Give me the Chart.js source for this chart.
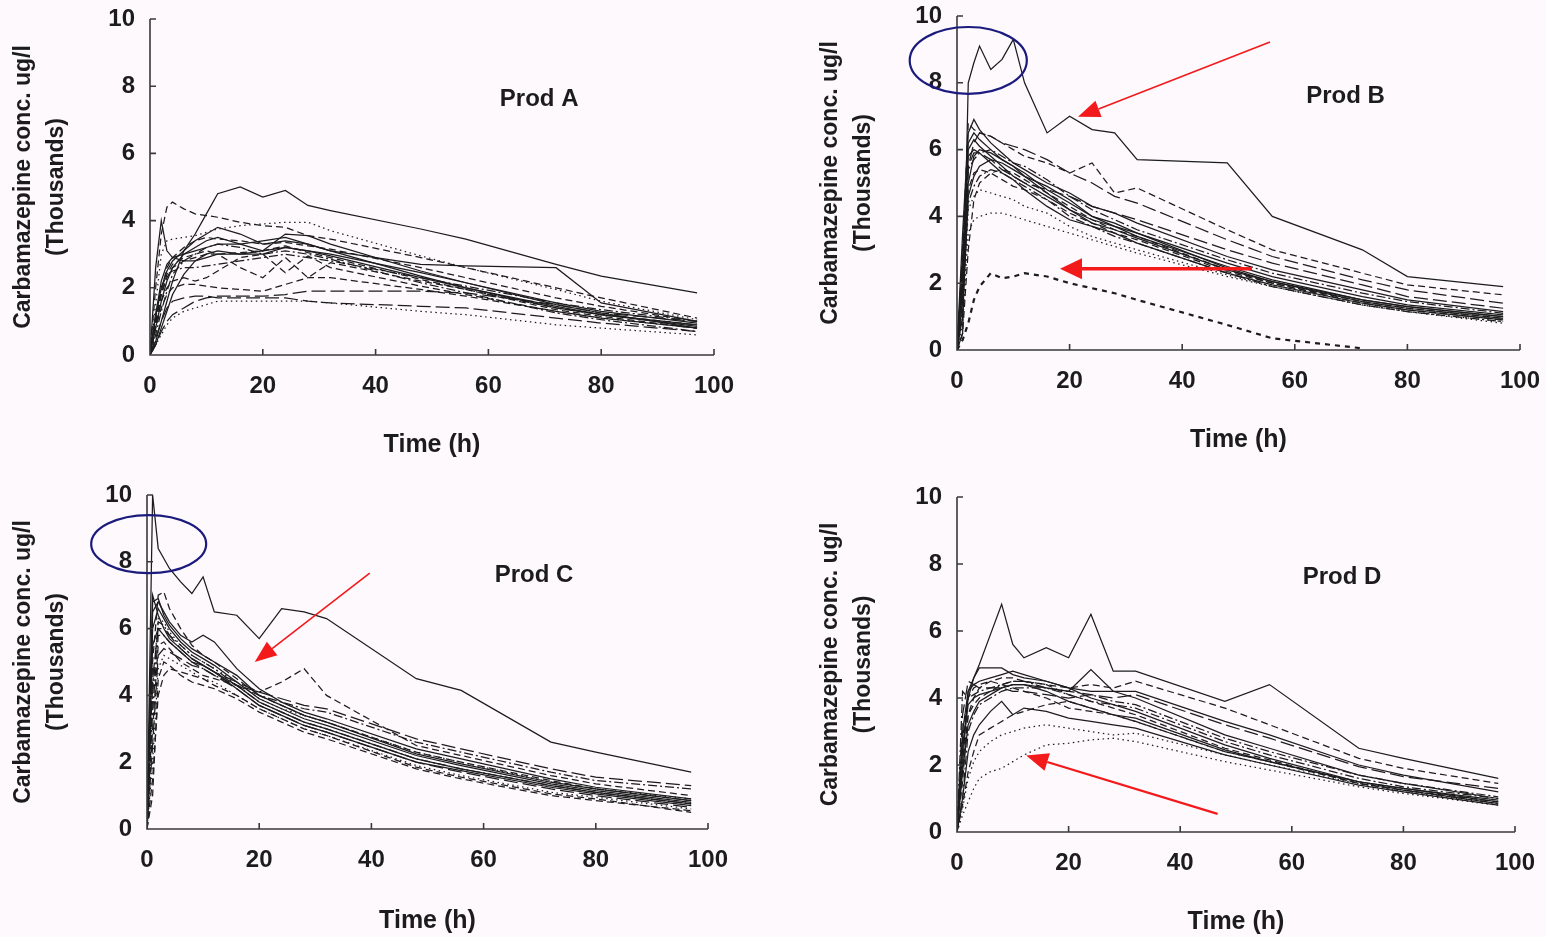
<!DOCTYPE html>
<html>
<head>
<meta charset="utf-8">
<script src="https://cdn.jsdelivr.net/npm/chart.js@4.4.0/dist/chart.umd.min.js"></script>
<style>
  html, body { margin: 0; padding: 0; background: #fdf9fd; }
  body { width: 1546px; height: 937px; position: relative; overflow: hidden; }
  canvas { position: absolute; }
</style>
</head>
<body>
<canvas id="pA"></canvas>
<canvas id="pB"></canvas>
<canvas id="pC"></canvas>
<canvas id="pD"></canvas>
<script>
// sampling times (h)
const hours = [0, 1, 2, 3, 4, 6, 8, 10, 12, 16, 20, 24, 28, 32, 48, 56, 72, 80, 97];

const xTicks = [0, 20, 40, 60, 80, 100];
const yTicks = [0, 2, 4, 6, 8, 10];
const xTitle = 'Time (h)';
const yTitle = ['Carbamazepine conc. ug/l', '(Thousands)'];
const panelNames = ['Prod A', 'Prod B', 'Prod C', 'Prod D'];

// carbamazepine conc (thousands ug/l), one row per subject, read at `hours`
const prodA = [
  [0, 0.4, 1.0, 1.6, 2.2, 3.1, 3.6, 4.2, 4.8, 5.0, 4.7, 4.9, 4.45, 4.3, 3.75, 3.45, 2.7, 2.35, 1.85],
  [0, 1.2, 2.2, 2.7, 2.9, 3.0, 3.1, 3.2, 3.3, 3.3, 3.4, 3.5, 3.3, 3.1, 2.7, 2.65, 2.6, 1.55, 1.0],
  [0, 2.0, 3.6, 4.4, 4.55, 4.35, 4.2, 4.15, 4.1, 3.95, 3.85, 3.8, 3.55, 3.45, 2.9, 2.6, 2.0, 1.7, 1.1],
  [0, 2.6, 4.0, 3.1, 2.9, 2.8, 2.8, 2.9, 3.0, 3.0, 3.1, 3.2, 3.1, 2.95, 2.3, 2.0, 1.4, 1.2, 0.85],
  [0, 1.5, 3.0, 3.4, 3.45, 3.5, 3.55, 3.65, 3.75, 3.85, 3.9, 3.95, 3.95, 3.7, 2.95, 2.6, 1.95, 1.6, 1.05],
  [0, 0.8, 1.6, 2.2, 2.6, 3.0, 3.2, 3.4, 3.5, 3.3, 3.1, 3.6, 3.55, 3.3, 2.5, 2.15, 1.5, 1.25, 0.8],
  [0, 1.2, 2.0, 2.5, 2.8, 3.1, 3.4, 3.6, 3.8, 3.6, 3.3, 3.4, 3.3, 3.1, 2.35, 2.0, 1.45, 1.2, 0.9],
  [0, 1.0, 1.8, 2.4, 2.7, 2.9, 3.0, 3.1, 3.0, 3.05, 3.1, 3.25, 3.05, 2.9, 2.25, 1.95, 1.35, 1.15, 0.8],
  [0, 0.6, 1.3, 1.9, 2.4, 2.8, 3.0, 3.2, 3.3, 3.2, 3.0, 3.1, 3.0, 2.85, 2.15, 1.85, 1.25, 1.05, 0.7],
  [0, 0.3, 0.8, 1.3, 1.8, 2.4, 2.8, 3.0, 3.1, 3.0, 3.0, 3.2, 3.1, 3.0, 2.45, 2.15, 1.55, 1.3, 0.95],
  [0, 1.0, 1.8, 2.3, 2.6, 2.8, 2.9, 3.0, 3.0, 2.6, 2.3, 2.9, 2.3, 2.75, 2.2, 1.95, 1.4, 1.2, 0.9],
  [0, 0.9, 1.6, 2.0, 2.2, 2.3, 2.2, 2.3, 2.5, 2.9, 3.0, 2.45, 2.95, 2.6, 2.05, 1.8, 1.3, 1.1, 0.8],
  [0, 0.8, 1.4, 1.8, 2.0, 2.1, 2.1, 2.05, 2.0, 1.95, 1.9, 2.1, 2.3, 2.3, 1.95, 1.75, 1.3, 1.1, 0.8],
  [0, 0.3, 0.7, 1.0, 1.2, 1.4, 1.6, 1.7, 1.75, 1.75, 1.75, 1.8, 1.9, 1.9, 1.9, 1.85, 1.5, 1.25, 1.0],
  [0, 0.3, 0.6, 0.9, 1.1, 1.3, 1.4, 1.5, 1.6, 1.6, 1.6, 1.6, 1.6, 1.55, 1.3, 1.2, 0.9, 0.8, 0.6],
  [0, 1.1, 2.0, 2.4, 2.5, 2.6, 2.6, 2.65, 2.7, 2.8, 2.9, 3.0, 2.9, 2.8, 2.3, 2.05, 1.55, 1.35, 1.0],
  [0, 0.5, 1.0, 1.4, 1.6, 1.7, 1.75, 1.75, 1.7, 1.7, 1.7, 1.7, 1.6, 1.55, 1.45, 1.4, 1.1, 0.95, 0.7],
  [0, 0.9, 1.9, 2.6, 2.9, 3.2, 3.4, 3.5, 3.45, 3.4, 3.3, 3.35, 3.25, 3.15, 2.6, 2.3, 1.7, 1.45, 1.0]
];

const prodB = [
  [0, 0.5, 8.0, 8.6, 9.1, 8.4, 8.7, 9.3, 8.0, 6.5, 7.0, 6.6, 6.5, 5.7, 5.6, 4.0, 3.0, 2.2, 1.9],
  [0, 3.0, 6.8, 6.6, 6.5, 6.4, 6.2, 6.0, 5.8, 5.6, 5.3, 5.6, 4.7, 4.85, 3.6, 3.0, 2.3, 1.95, 1.65],
  [0, 2.0, 5.5, 6.2, 6.5, 6.4, 6.2, 6.1, 6.0, 5.7, 5.3, 5.0, 4.6, 4.4, 3.3, 2.8, 2.1, 1.8, 1.4],
  [0, 1.5, 5.0, 5.8, 6.0, 5.9, 5.7, 5.5, 5.3, 4.8, 4.4, 4.0, 3.8, 3.5, 2.6, 2.2, 1.6, 1.35, 1.05],
  [0, 2.5, 6.0, 6.3, 6.1, 5.8, 5.5, 5.2, 5.0, 4.6, 4.2, 3.9, 3.7, 3.4, 2.5, 2.1, 1.5, 1.3, 1.0],
  [0, 2.0, 5.4, 5.7, 5.9, 6.0, 5.8, 5.6, 5.5, 5.1, 4.6, 4.2, 3.9, 3.6, 2.7, 2.3, 1.7, 1.45, 1.1],
  [0, 1.0, 4.6, 5.2, 5.5, 5.7, 5.6, 5.4, 5.2, 4.9, 4.5, 4.0, 3.7, 3.5, 2.45, 2.05, 1.45, 1.25, 0.95],
  [0, 3.5, 6.5, 6.9, 6.6, 6.2, 5.9, 5.6, 5.4, 5.0, 4.7, 4.3, 4.1, 3.8, 2.8, 2.4, 1.8, 1.5, 1.15],
  [0, 1.2, 4.8, 5.3, 5.4, 5.3, 5.1, 4.9, 4.8, 4.5, 4.1, 3.8, 3.5, 3.3, 2.35, 2.0, 1.4, 1.2, 0.9],
  [0, 0.8, 3.5, 3.9, 4.0, 4.1, 4.1, 4.0, 3.9, 3.7, 3.5, 3.3, 3.1, 2.9, 2.2, 1.9, 1.35, 1.15, 0.85],
  [0, 1.0, 4.2, 4.6, 4.8, 4.7, 4.6, 4.5, 4.3, 4.1, 3.7, 3.4, 3.2, 3.0, 2.25, 1.9, 1.35, 1.15, 0.8],
  [0, 0.3, 0.8, 1.5, 1.9, 2.3, 2.15, 2.2, 2.3, 2.2, 2.0, 1.85, 1.7, 1.5, 0.75, 0.35, 0.05, null, null],
  [0, 0.5, 3.0, 4.5, 5.0, 5.3, 5.4, 5.3, 5.1, 4.7, 4.3, 3.9, 3.6, 3.4, 2.4, 2.0, 1.45, 1.25, 0.95],
  [0, 1.8, 5.5, 5.9, 5.9, 5.7, 5.4, 5.2, 5.0, 4.8, 4.6, 4.3, 4.1, 3.9, 3.0, 2.6, 1.95, 1.6, 1.25],
  [0, 2.2, 5.8, 6.0, 5.9, 5.6, 5.3, 5.1, 4.8, 4.3, 3.9, 3.7, 3.5, 3.2, 2.3, 1.95, 1.4, 1.2, 0.9],
  [0, 1.5, 4.4, 4.9, 5.2, 5.4, 5.3, 5.1, 4.9, 4.5, 4.0, 3.7, 3.4, 3.2, 2.3, 1.9, 1.35, 1.15, 0.85],
  [0, 2.8, 6.2, 6.5, 6.3, 6.0, 5.7, 5.5, 5.2, 4.7, 4.2, 3.8, 3.6, 3.35, 2.4, 2.05, 1.5, 1.3, 1.0]
];

const prodC = [
  [0, 10.0, 8.4, 8.1, 7.8, 7.4, 7.05, 7.55, 6.5, 6.4, 5.7, 6.6, 6.5, 6.3, 4.5, 4.15, 2.6, 2.3, 1.7],
  [0, 6.5, 6.8, 6.5, 6.2, 5.8, 5.6, 5.8, 5.6, 4.8, 4.2, 3.8, 3.5, 3.3, 2.4, 2.1, 1.5, 1.25, 0.9],
  [0, 5.0, 7.0, 7.1, 6.6, 6.0, 5.5, 5.2, 5.0, 4.5, 4.0, 3.7, 3.4, 3.2, 2.3, 2.0, 1.45, 1.2, 0.85],
  [0, 6.0, 6.6, 6.3, 6.0, 5.6, 5.3, 5.1, 4.9, 4.4, 3.9, 3.6, 3.3, 3.1, 2.2, 1.9, 1.35, 1.15, 0.8],
  [0, 4.0, 6.2, 6.1, 5.8, 5.5, 5.2, 5.0, 4.8, 4.3, 3.8, 3.5, 3.2, 3.0, 2.1, 1.8, 1.3, 1.1, 0.75],
  [0, 5.5, 6.0, 5.8, 5.6, 5.3, 5.0, 4.9, 4.7, 4.2, 3.7, 3.4, 3.1, 2.9, 2.0, 1.75, 1.25, 1.05, 0.7],
  [0, 3.0, 5.5, 5.6, 5.4, 5.0, 4.8, 4.6, 4.5, 4.3, 4.1, 4.4, 4.8, 4.0, 2.5, 2.2, 1.6, 1.35, 1.0],
  [0, 4.5, 6.0, 6.0, 5.8, 5.4, 5.1, 4.9, 4.7, 4.4, 4.1, 3.9, 3.7, 3.6, 2.7, 2.4, 1.8, 1.55, 1.3],
  [0, 3.5, 5.8, 5.8, 5.6, 5.3, 5.0, 4.8, 4.6, 4.3, 4.0, 3.8, 3.6, 3.5, 2.6, 2.3, 1.7, 1.45, 1.2],
  [0, 2.0, 4.8, 5.2, 5.1, 4.9, 4.7, 4.5, 4.4, 4.0, 3.6, 3.3, 3.0, 2.8, 1.9, 1.6, 1.1, 0.95, 0.6],
  [0, 7.0, 6.4, 6.0, 5.7, 5.4, 5.1, 4.9, 4.7, 4.3, 3.8, 3.5, 3.2, 3.0, 2.1, 1.8, 1.3, 1.1, 0.75],
  [0, 1.0, 4.5, 5.0, 4.9, 4.6, 4.4, 4.3, 4.2, 3.9, 3.5, 3.2, 2.9, 2.7, 1.8, 1.5, 1.0, 0.85, 0.55],
  [0, 2.5, 5.2, 5.4, 5.3, 5.1, 4.9, 4.8, 4.6, 4.2, 3.7, 3.4, 3.1, 2.9, 2.0, 1.7, 1.2, 1.0, 0.65],
  [0, 4.2, 6.3, 6.2, 5.9, 5.5, 5.2, 5.0, 4.8, 4.4, 3.9, 3.6, 3.4, 3.2, 2.3, 2.0, 1.4, 1.2, 0.9],
  [0, 6.8, 6.9, 6.4, 6.1, 5.7, 5.4, 5.2, 5.0, 4.6, 4.0, 3.7, 3.4, 3.2, 2.25, 1.95, 1.4, 1.2, 0.85],
  [0, 1.5, 4.0, 4.6, 4.8, 4.7, 4.6, 4.5, 4.3, 4.0, 3.6, 3.3, 3.0, 2.8, 1.85, 1.55, 1.05, 0.9, 0.5]
];

const prodD = [
  [0, 2.0, 4.2, 4.6, 5.0, 5.9, 6.8, 5.6, 5.2, 5.5, 5.2, 6.5, 4.8, 4.8, 3.9, 4.4, 2.5, 2.2, 1.6],
  [0, 2.5, 4.0, 4.6, 4.9, 4.9, 4.9, 4.7, 4.6, 4.5, 4.3, 4.2, 4.2, 4.2, 3.3, 2.9, 2.0, 1.7, 1.2],
  [0, 1.5, 3.5, 4.0, 4.3, 4.5, 4.6, 4.6, 4.5, 4.4, 4.3, 4.4, 4.3, 4.5, 3.7, 3.2, 2.2, 1.9, 1.45],
  [0, 3.0, 4.2, 4.4, 4.5, 4.6, 4.7, 4.8, 4.7, 4.5, 4.3, 4.0, 3.8, 3.6, 2.6, 2.2, 1.5, 1.3, 0.9],
  [0, 2.0, 3.5, 3.8, 4.0, 4.2, 4.4, 4.5, 4.5, 4.4, 4.1, 3.9, 3.7, 3.5, 2.5, 2.15, 1.45, 1.25, 0.85],
  [0, 1.0, 3.0, 3.5, 3.8, 4.0, 4.2, 4.3, 4.3, 4.3, 4.2, 4.1, 3.9, 3.8, 2.8, 2.4, 1.7, 1.45, 1.05],
  [0, 1.0, 2.4, 2.9, 3.2, 3.6, 3.9, 3.5, 3.7, 3.6, 3.4, 3.3, 3.2, 3.1, 2.3, 2.0, 1.4, 1.2, 0.8],
  [0, 0.8, 1.8, 2.4, 2.9, 3.1, 3.3, 3.5, 3.6, 3.8, 3.9, 3.7, 3.5, 3.3, 2.4, 2.1, 1.5, 1.25, 0.85],
  [0, 2.5, 3.8, 4.0, 4.1, 4.2, 4.3, 4.4, 4.4, 4.3, 4.2, 4.85, 4.2, 4.0, 2.9, 2.5, 1.7, 1.45, 1.0],
  [0, 0.5, 0.9, 1.3, 1.6, 1.8, 1.9, 2.1, 2.3, 2.6, 2.65, 2.75, 2.8, 2.7, 2.1, 1.85, 1.35, 1.15, 0.8],
  [0, 0.7, 1.6, 2.1, 2.4, 2.7, 2.9, 3.0, 3.1, 3.2, 3.1, 3.0, 2.9, 2.95, 2.3, 2.0, 1.45, 1.2, 0.85],
  [0, 3.5, 4.5, 4.4, 4.3, 4.3, 4.3, 4.2, 4.2, 4.1, 4.0, 4.1, 4.0, 4.1, 3.2, 2.8, 1.95, 1.65, 1.3],
  [0, 2.8, 4.0, 4.3, 4.4, 4.5, 4.4, 4.3, 4.2, 4.0, 3.7, 3.6, 3.5, 3.3, 2.4, 2.1, 1.45, 1.25, 0.9],
  [0, 1.8, 3.2, 3.6, 3.9, 4.1, 4.3, 4.4, 4.4, 4.2, 3.9, 3.7, 3.5, 3.4, 2.45, 2.1, 1.5, 1.3, 0.95],
  [0, 4.2, 4.0, 4.1, 4.2, 4.3, 4.4, 4.5, 4.5, 4.3, 4.1, 3.9, 3.8, 3.7, 2.7, 2.3, 1.6, 1.35, 1.0]
];

// hand-drawn marks on the figure, in data units of each panel
const ringsB = [{ x: 2.0, y: 8.67, rx: 10.4, ry: 1.0 }];
const ringsC = [{ x: 0.3, y: 8.53, rx: 10.25, ry: 0.87 }];
const arrowsB = [
  { x1: 55.6, y1: 9.22, x2: 21.5, y2: 6.98, w: 1.6 },
  { x1: 52.4, y1: 2.43, x2: 18.3, y2: 2.43, w: 3.5 }
];
const arrowsC = [{ x1: 39.7, y1: 7.66, x2: 19.2, y2: 5.0, w: 1.6 }];
const arrowsD = [{ x1: 46.7, y1: 0.54, x2: 12.4, y2: 2.28, w: 2.2 }];

const FONT = "'Liberation Sans', Arial, Helvetica, sans-serif";
const INK = '#1c1c1c';

const dashes = {
  s: [], d: [7, 4], o: [1.5, 3.5], k: [9, 3, 2, 3], l: [14, 5], b: [5, 5]
};

// panel boxes: canvas position + where the plot area must land
const panels = [
  { id: 'pA', rows: prodA, styles: 'ssdsossdksdddlokld', rings: [], arrows: [],
    left: 0, top: 0, w: 770, h: 460, plotL: 150, plotR: 714, plotT: 19, plotB: 355 },
  { id: 'pB', rows: prodB, styles: 'sdlsskssdoobdlsks', rings: ringsB, arrows: arrowsB,
    left: 807, top: 0, w: 739, h: 455, plotL: 957, plotR: 1520, plotT: 16, plotB: 350 },
  { id: 'pC', rows: prodC, styles: 'ssdsksdlkosdlosd', rings: ringsC, arrows: arrowsC,
    left: 0, top: 470, w: 770, h: 466, plotL: 147, plotR: 708, plotT: 495, plotB: 829 },
  { id: 'pD', rows: prodD, styles: 'ssdsdksdsooldsk', rings: [], arrows: arrowsD,
    left: 807, top: 470, w: 739, h: 467, plotL: 957, plotR: 1515, plotT: 497, plotB: 832 }
];

const decorations = {
  id: 'decorations',
  afterDatasetsDraw(chart, args, opts) {
    const { ctx } = chart;
    const xs = chart.scales.x, ys = chart.scales.y;
    const px = v => xs.getPixelForValue(v);
    const py = v => ys.getPixelForValue(v);
    ctx.save();
    // axes with inward ticks
    ctx.strokeStyle = '#3a3a3a';
    ctx.lineWidth = 1.6;
    ctx.beginPath();
    ctx.moveTo(px(0), py(10));
    ctx.lineTo(px(0), py(0));
    ctx.lineTo(px(100), py(0));
    yTicks.forEach(v => { ctx.moveTo(px(0), py(v)); ctx.lineTo(px(0) + 6, py(v)); });
    xTicks.forEach(v => { ctx.moveTo(px(v), py(0)); ctx.lineTo(px(v), py(0) - 6); });
    ctx.stroke();

    // panel name
    ctx.fillStyle = INK;
    ctx.font = `bold 24px ${FONT}`;
    ctx.textAlign = 'center';
    ctx.textBaseline = 'middle';
    ctx.fillText(opts.name, px(69), py(7.6));

    // blue rings
    ctx.strokeStyle = '#1b1b7e';
    ctx.lineWidth = 2.2;
    opts.rings.forEach(r => {
      ctx.beginPath();
      ctx.ellipse(px(r.x), py(r.y), px(r.rx) - px(0), py(0) - py(r.ry), 0, 0, Math.PI * 2);
      ctx.stroke();
    });

    // red arrows
    ctx.strokeStyle = '#f21a1a';
    ctx.fillStyle = '#f21a1a';
    opts.arrows.forEach(a => {
      const x1 = px(a.x1), y1 = py(a.y1), x2 = px(a.x2), y2 = py(a.y2);
      const ang = Math.atan2(y2 - y1, x2 - x1);
      const hl = 22, hw = 7 + a.w;
      const bx = x2 - hl * Math.cos(ang), by = y2 - hl * Math.sin(ang);
      ctx.lineWidth = a.w;
      ctx.beginPath();
      ctx.moveTo(x1, y1);
      ctx.lineTo(bx, by);
      ctx.stroke();
      ctx.beginPath();
      ctx.moveTo(x2, y2);
      ctx.lineTo(bx + hw * Math.sin(ang), by - hw * Math.cos(ang));
      ctx.lineTo(bx - hw * Math.sin(ang), by + hw * Math.cos(ang));
      ctx.closePath();
      ctx.fill();
    });
    ctx.restore();
  }
};

panels.forEach((p, k) => {
  const cv = document.getElementById(p.id);
  cv.width = p.w;
  cv.height = p.h;
  cv.style.left = p.left + 'px';
  cv.style.top = p.top + 'px';

  const datasets = p.rows.map((vals, i) => {
    const st = p.styles[i] || 's';
    return {
      data: hours.map((h, j) => ({ x: h, y: vals[j] })).filter(pt => pt.y !== null),
      borderColor: INK,
      borderWidth: st === 'b' ? 2.2 : 1.25,
      borderDash: dashes[st],
      pointRadius: 0,
      tension: 0,
      fill: false
    };
  });

  const tickFont = { family: FONT, size: 24, weight: 'bold' };

  new Chart(cv, {
    type: 'line',
    data: { datasets },
    options: {
      responsive: false,
      animation: false,
      devicePixelRatio: 1,
      layout: { padding: { top: p.plotT - p.top, right: p.left + p.w - p.plotR, left: 0, bottom: 0 } },
      plugins: {
        legend: { display: false },
        tooltip: { enabled: false },
        decorations: { name: panelNames[k], rings: p.rings, arrows: p.arrows }
      },
      scales: {
        x: {
          type: 'linear', min: 0, max: 100,
          afterBuildTicks: s => { s.ticks = xTicks.map(v => ({ value: v })); },
          afterFit: s => {
            s.height = p.top + p.h - p.plotB;
            s.paddingLeft = 0; s.paddingRight = 0;
          },
          grid: { display: false, drawTicks: false },
          border: { display: false },
          ticks: { font: tickFont, color: INK, padding: 17, maxRotation: 0, autoSkip: false },
          title: { display: true, text: xTitle, color: INK, padding: 0,
                   font: { family: FONT, size: 25, weight: 'bold', lineHeight: 1.2 } }
        },
        y: {
          type: 'linear', min: 0, max: 10,
          afterBuildTicks: s => { s.ticks = yTicks.map(v => ({ value: v })); },
          afterFit: s => {
            s.width = p.plotL - p.left;
            s.paddingTop = 0; s.paddingBottom = 0;
          },
          grid: { display: false, drawTicks: false },
          border: { display: false },
          ticks: { font: tickFont, color: INK, padding: 15 },
          title: { display: true, text: yTitle, color: INK, padding: { top: 7, bottom: 0 },
                   font: { family: FONT, size: 23, weight: 'bold', lineHeight: 1.45 } }
        }
      }
    },
    plugins: [decorations]
  });
});
</script>
</body>
</html>
